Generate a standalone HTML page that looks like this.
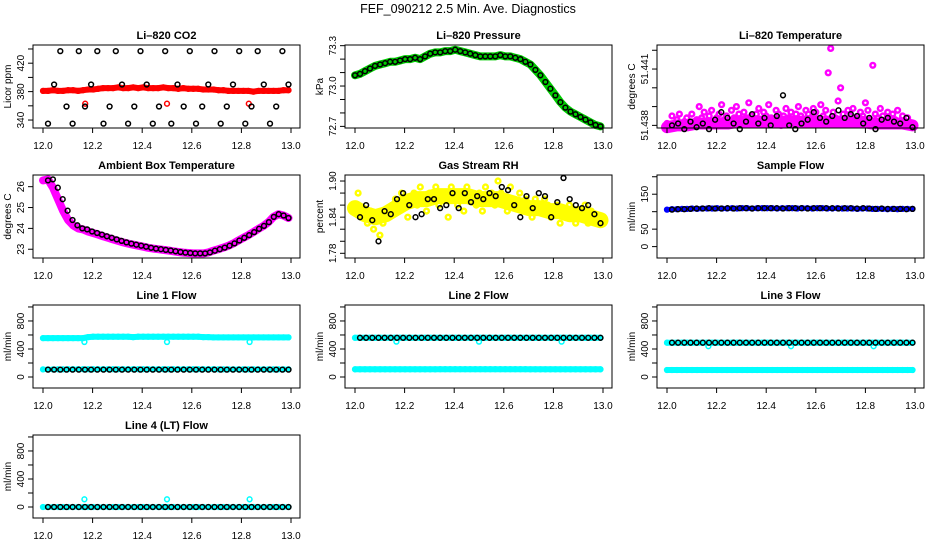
<!DOCTYPE html>
<html><head><meta charset="utf-8"><title>FEF_090212 Diagnostics</title>
<style>
html,body{margin:0;padding:0;background:#fff;}
svg{display:block;font-family:"Liberation Sans",Arial,sans-serif;}
</style></head>
<body>
<svg id="chart" width="936" height="540" viewBox="0 0 936 540" xmlns="http://www.w3.org/2000/svg">
<rect x="0" y="0" width="936" height="540" fill="#fff"/>
<text x="468" y="13" text-anchor="middle" font-size="12.5">FEF_090212  2.5 Min. Ave. Diagnostics</text>
</svg>
<script>
// ---- data ----
const xTicks = [12.0, 12.2, 12.4, 12.6, 12.8, 13.0];
const xTickLabels = ["12.0", "12.2", "12.4", "12.6", "12.8", "13.0"];

const co2Red = [381,381,382,381,381,382,382,381,382,383,383,384,385,385,385,386,385,385,386,385,386,385,385,385,386,385,385,384,385,384,384,384,383,383,383,382,382,381,381,381,381,381,380,381,381,381,381,381,382,382];
const co2RedOutX = [12.17, 12.5, 12.83];
const co2RedOutY = [363, 363, 363];
const co2Black = [335,390,437,359,335,437,359,390,437,335,359,437,390,335,359,437,390,335,359,437,335,390,359,437,335,359,390,437,335,359,390,437,335,359,437,390,335,359,437,390];

const pressure = [73.08,73.09,73.11,73.13,73.15,73.16,73.17,73.18,73.18,73.19,73.2,73.2,73.21,73.2,73.22,73.24,73.25,73.25,73.26,73.26,73.27,73.26,73.25,73.24,73.23,73.22,73.22,73.22,73.22,73.23,73.22,73.22,73.21,73.2,73.18,73.16,73.12,73.08,73.03,72.98,72.93,72.88,72.84,72.81,72.79,72.77,72.75,72.73,72.71,72.70];

const tempMagenta = [51.4381,51.4379,51.4385,51.4380,51.4383,51.4386,51.4379,51.4382,51.4384,51.4380,51.4386,51.4381,51.4383,51.4390,51.4384,51.4387,51.4380,51.4385,51.4388,51.4382,51.4384,51.4386,51.4391,51.4383,51.4385,51.4380,51.4388,51.4384,51.4390,51.4386,51.4382,51.4387,51.4384,51.4392,51.4385,51.4381,51.4386,51.4389,51.4383,51.4387,51.4385,51.4391,51.4384,51.4382,51.4388,51.4386,51.4380,51.4385,51.4389,51.4384,51.4387,51.4383,51.4386,51.4390,51.4385,51.4382,51.4388,51.4386,51.4384,51.4389,51.4387,51.4383,51.4391,51.4385,51.4388,51.4408,51.4421,51.4387,51.4384,51.4393,51.4400,51.4386,51.4383,51.4388,51.4385,51.4389,51.4384,51.4382,51.4387,51.4385,51.4392,51.4388,51.4383,51.4412,51.4386,51.4384,51.4389,51.4385,51.4382,51.4387,51.4384,51.4386,51.4383,51.4388,51.4381,51.4385,51.4382,51.4384,51.4381,51.4380];
const tempMagentaBase = [51.4379,51.4380,51.4380,51.4381,51.4381,51.4381,51.4381,51.4382,51.4382,51.4382,51.4382,51.4382,51.4382,51.4382,51.4382,51.4382,51.4382,51.4382,51.4382,51.4382,51.4381,51.4381,51.4381,51.4381,51.4380];
const tempBlack = [51.4380,51.4381,51.4378,51.4382,51.4379,51.4381,51.4378,51.4383,51.4387,51.4384,51.4381,51.4378,51.4382,51.4386,51.4381,51.4384,51.4380,51.4385,51.4396,51.4380,51.4378,51.4381,51.4383,51.4387,51.4384,51.4382,51.4385,51.4388,51.4384,51.4386,51.4385,51.4381,51.4384,51.4378,51.4383,51.4384,51.4382,51.4381,51.4384,51.4379];

const ambient = [26.3,26.35,25.95,25.4,24.85,24.4,24.15,24.0,23.95,23.85,23.78,23.7,23.62,23.55,23.47,23.4,23.33,23.27,23.22,23.17,23.12,23.07,23.03,23.0,22.97,22.94,22.9,22.87,22.84,22.82,22.8,22.8,22.8,22.85,22.93,23.0,23.08,23.17,23.28,23.42,23.55,23.68,23.82,23.98,24.12,24.3,24.55,24.68,24.62,24.5];

const rhYellow = [1.86,1.88,1.85,1.84,1.83,1.85,1.82,1.84,1.81,1.83,1.85,1.84,1.86,1.87,1.85,1.88,1.86,1.84,1.87,1.88,1.86,1.89,1.87,1.85,1.88,1.87,1.89,1.86,1.88,1.87,1.84,1.89,1.88,1.86,1.87,1.85,1.89,1.88,1.87,1.86,1.88,1.85,1.89,1.87,1.88,1.86,1.90,1.88,1.87,1.85,1.89,1.87,1.86,1.88,1.85,1.87,1.86,1.84,1.87,1.86,1.85,1.87,1.86,1.84,1.85,1.86,1.83,1.85,1.84,1.86,1.85,1.83,1.85,1.84,1.86,1.83,1.85,1.84,1.83,1.84];
const rhYellowBase = [1.855,1.845,1.84,1.845,1.855,1.865,1.87,1.87,1.875,1.875,1.875,1.875,1.87,1.87,1.87,1.865,1.86,1.855,1.855,1.85,1.85,1.845,1.845,1.84,1.835];
const rhBlack = [1.84,1.86,1.835,1.80,1.85,1.845,1.87,1.88,1.86,1.84,1.845,1.87,1.87,1.855,1.86,1.88,1.855,1.88,1.865,1.875,1.87,1.88,1.875,1.89,1.885,1.86,1.84,1.875,1.855,1.88,1.875,1.84,1.865,1.905,1.87,1.86,1.855,1.86,1.845,1.83];

const sampleBlue = [106,107,107,108,108,109,108,109,109,109,110,109,109,110,109,110,110,109,110,110,110,110,109,110,110,110,109,110,110,109,110,110,109,109,110,109,109,109,108,109,109,108,108,108,107,108,107,108,108,108];
const sampleBlack = [106,107,107,108,109,109,110,109,109,110,109,110,110,109,110,110,110,110,109,110,110,110,109,110,110,110,110,109,110,110,109,110,109,108,109,108,108,108,107,108];

const line1High = [555,555,555,555,555,555,555,555,555,570,575,575,575,575,575,575,575,575,570,575,575,575,575,575,575,575,575,575,575,575,575,575,570,570,565,565,565,565,565,565,565,565,565,565,565,565,565,565,565,565];
const line1Low = [108,108,108,110,110,112,112,112,112,112,112,112,112,112,112,112,112,112,112,112,112,112,112,112,112,112,112,112,112,112,112,112,112,112,112,110,110,110,110,110,110,110,110,110,110,110,110,110,110,110];
const line1Black = [105,105,105,105,105,105,105,105,105,105,105,105,105,105,105,105,105,105,105,105,105,105,105,105,105,105,105,105,105,105,105,105,105,105,105,105,105,105,105,105];
const dipX = [12.167, 12.5, 12.833];
const line1DipY = [500, 500, 500];

const line2High = [560,560,560,560,560,560,560,560,560,560,560,560,560,560,560,560,560,560,560,560,560,560,560,560,560,560,560,560,560,560,560,560,560,560,560,560,560,560,560,560,560,560,560,560,560,560,560,560,560,560];
const line2Low = [110,110,110,110,110,110,110,110,110,110,110,110,110,110,110,110,110,112,112,112,112,112,112,112,112,112,112,112,112,112,112,112,112,112,112,110,110,110,110,110,110,110,110,110,110,110,110,110,110,110];
const line2Black = [560,560,560,560,560,560,560,560,560,560,560,560,560,560,560,560,560,560,560,560,560,560,560,560,560,560,560,560,560,560,560,560,560,560,560,560,560,560,560,560];
const line2DipY = [505, 505, 505];

const line3High = [490,490,490,490,490,490,490,490,490,490,490,490,490,490,490,490,490,490,490,490,490,490,490,490,490,490,490,490,490,490,490,490,490,490,490,490,490,490,490,490,490,490,490,490,490,490,490,490,490,490];
const line3Low = [100,100,100,100,100,100,100,100,100,100,100,100,100,100,100,100,100,100,100,100,100,100,100,100,100,100,100,100,100,100,100,100,100,100,100,100,100,100,100,100,100,100,100,100,100,100,100,100,100,100];
const line3Black = [490,490,490,490,490,490,490,490,490,490,490,490,490,490,490,490,490,490,490,490,490,490,490,490,490,490,490,490,490,490,490,490,490,490,490,490,490,490,490,490];
const line3DipY = [440, 440, 440];

const line4Cyan = [0,0,0,0,0,0,0,0,0,0,0,0,0,0,0,0,0,0,0,0,0,0,0,0,0,0,0,0,0,0,0,0,0,0,0,0,0,0,0,0,0,0,0,0,0,0,0,0,0,0];
const line4Black = [0,0,0,0,0,0,0,0,0,0,0,0,0,0,0,0,0,0,0,0,0,0,0,0,0,0,0,0,0,0,0,0,0,0,0,0,0,0,0,0];
const line4DipY = [110, 110, 110];

// ---- drawing ----
const svg = document.getElementById('chart');
const NS = 'http://www.w3.org/2000/svg';
function mk(tag, attrs, parent) {
  const e = document.createElementNS(NS, tag);
  for (const k in attrs) e.setAttribute(k, attrs[k]);
  (parent || svg).appendChild(e);
  return e;
}
const flowTicks = [0,200,400,600,800,1000];
const flowLabels = {0:"0",400:"400",800:"800"};

const panels = [
 {c:0,r:0,name:'co2',title:'Li\u2013820 CO2',ylab:'Licor ppm',ymin:328.8,ymax:445.6,ticks:[340,360,380,400,420,440],labels:{340:"340",380:"380",420:"420"},
  series:[{v:co2Red,color:'#ff0000',band:6},{x:co2RedOutX,v:co2RedOutY,color:'#ff0000'},{v:co2Black,color:'#000',start:12.02}]},
 {c:1,r:0,name:'pressure',title:'Li\u2013820 Pressure',ylab:'kPa',ymin:72.688,ymax:73.305,ticks:[72.7,72.8,72.9,73.0,73.1,73.2,73.3],labels:{"72.7":"72.7","73":"73.0","73.3":"73.3"},
  series:[{v:pressure,color:'#00cc00',band:8},{v:pressure,color:'#000'}]},
 {c:2,r:0,name:'temperature',title:'Li\u2013820 Temperature',ylab:'degrees C',ymin:51.43786,ymax:51.44228,ticks:[51.438,51.439,51.440,51.441,51.442],labels:{"51.438":"51.438","51.441":"51.441"},
  series:[{v:tempMagentaBase,color:'#ff00ff',band:12,nopts:true},{v:tempMagenta,color:'#ff00ff',sw:2.4},{v:tempBlack,color:'#000',start:12.02}]},
 {c:0,r:1,name:'ambient',title:'Ambient Box Temperature',ylab:'degrees C',ymin:22.58,ymax:26.56,ticks:[23,24,25,26],labels:{23:"23",24:"24",25:"25",26:"26"},
  series:[{v:ambient,color:'#ff00ff',band:8},{v:ambient,color:'#000',start:12.02}]},
 {c:1,r:1,name:'rh',title:'Gas Stream RH',ylab:'percent',ymin:1.7722,ymax:1.910,ticks:[1.78,1.80,1.82,1.84,1.86,1.88,1.90],labels:{"1.78":"1.78","1.84":"1.84","1.9":"1.90"},
  series:[{v:rhYellowBase,color:'#ffff00',band:16,nopts:true},{v:rhYellow,color:'#ffff00',sw:2.4},{v:rhBlack,color:'#000',start:12.02}]},
 {c:2,r:1,name:'sample-flow',title:'Sample Flow',ylab:'ml/min',ymin:-32.6,ymax:205,ticks:[0,50,100,150,200],labels:{0:"0",50:"50",150:"150"},
  series:[{v:sampleBlue,color:'#0000ff',band:5},{v:sampleBlack,color:'#000',start:12.02}]},
 {c:0,r:2,name:'line1-flow',title:'Line 1 Flow',ylab:'ml/min',ymin:-157,ymax:1028,ticks:flowTicks,labels:flowLabels,
  series:[{v:line1High,color:'#00ffff',band:6},{v:line1Low,color:'#00ffff',band:5},{x:dipX,v:line1DipY,color:'#00ffff'},{v:line1Black,color:'#000',start:12.02}]},
 {c:1,r:2,name:'line2-flow',title:'Line 2 Flow',ylab:'ml/min',ymin:-157,ymax:1028,ticks:flowTicks,labels:flowLabels,
  series:[{v:line2High,color:'#00ffff',band:6},{v:line2Low,color:'#00ffff',band:6},{x:dipX,v:line2DipY,color:'#00ffff'},{v:line2Black,color:'#000',start:12.02}]},
 {c:2,r:2,name:'line3-flow',title:'Line 3 Flow',ylab:'ml/min',ymin:-157,ymax:1028,ticks:flowTicks,labels:flowLabels,
  series:[{v:line3High,color:'#00ffff',band:6},{v:line3Low,color:'#00ffff',band:6},{x:dipX,v:line3DipY,color:'#00ffff'},{v:line3Black,color:'#000',start:12.02}]},
 {c:0,r:3,name:'line4-flow',title:'Line 4 (LT) Flow',ylab:'ml/min',ymin:-157,ymax:1028,ticks:flowTicks,labels:flowLabels,
  series:[{v:line4Cyan,color:'#00ffff',band:5},{x:dipX,v:line4DipY,color:'#00ffff'},{v:line4Black,color:'#000',start:12.02}]}
];

panels.forEach(p => {
  const L = 33 + 312*p.c, R = L + 267;
  const T = 45 + 130*p.r, B = T + 83;
  const x0 = L + 10, x1 = R - 9;
  const sx = v => x0 + (v - 12) / 1.0 * (x1 - x0);
  const sy = v => B - (v - p.ymin) / (p.ymax - p.ymin) * (B - T);
  const g = mk('g', {});
  
  

  const title = mk('text', {x:(L+R)/2, y:T-6, 'text-anchor':'middle','font-size':11,'font-weight':'bold'}, g);
  title.textContent = p.title;
  
  

  const yt = mk('text', {x:0,y:0,'text-anchor':'middle','font-size':10,transform:`translate(${L-22},${(T+B)/2}) rotate(-90)`}, g);
  yt.textContent = p.ylab;
  
  

  const plot = mk('g', {}, g);
  
  
  p.series.forEach((s, si) => {
    const n = s.v.length;
    const st = s.start || 12.0;
    const xs = s.x ? s.x : s.v.map((_, i) => st + i * (12.99 - st) / (n - 1));
    if (s.band) {
      const pl = mk('polyline', {points: s.v.map((v,i)=>sx(xs[i]).toFixed(1)+','+sy(v).toFixed(1)).join(' '), fill:'none', stroke:s.color, 'stroke-width':s.band, 'stroke-linejoin':'round','stroke-linecap':'round'}, plot);
      
      
    }
    if (s.nopts) return;
    s.v.forEach((v, i) => {
      const c = mk('circle', {cx:sx(xs[i]).toFixed(1), cy:sy(v).toFixed(1), r:2.4, fill:'none', stroke:s.color, 'stroke-width':s.sw||1.5}, plot);
      
      
    });
  });

  const box = mk('rect', {x:L, y:T, width:R-L, height:B-T, fill:'none', stroke:'#000','stroke-width':1}, g);
  
  

  const xa = mk('g', {}, g);
  
  
  mk('line', {x1:sx(xTicks[0]), x2:sx(xTicks[xTicks.length-1]), y1:B, y2:B, stroke:'#000'}, xa);
  xTicks.forEach((t, i) => {
    mk('line', {x1:sx(t), x2:sx(t), y1:B, y2:B+5, stroke:'#000'}, xa);
    const tl = mk('text', {x:sx(t), y:B+21, 'text-anchor':'middle','font-size':10}, xa);
    tl.textContent = xTickLabels[i];
    
    
  });

  const ya = mk('g', {}, g);
  
  
  mk('line', {x1:L, x2:L, y1:sy(p.ticks[0]), y2:sy(p.ticks[p.ticks.length-1]), stroke:'#000'}, ya);
  p.ticks.forEach(t => {
    mk('line', {x1:L-5, x2:L, y1:sy(t), y2:sy(t), stroke:'#000'}, ya);
    const lab = p.labels[String(t)];
    if (lab !== undefined) {
      const tl = mk('text', {x:0, y:0, 'text-anchor':'middle','font-size':10, transform:`translate(${L-9},${sy(t)}) rotate(-90)`}, ya);
      tl.textContent = lab;
      
      
    }
  });
});
</script>
</body></html>
